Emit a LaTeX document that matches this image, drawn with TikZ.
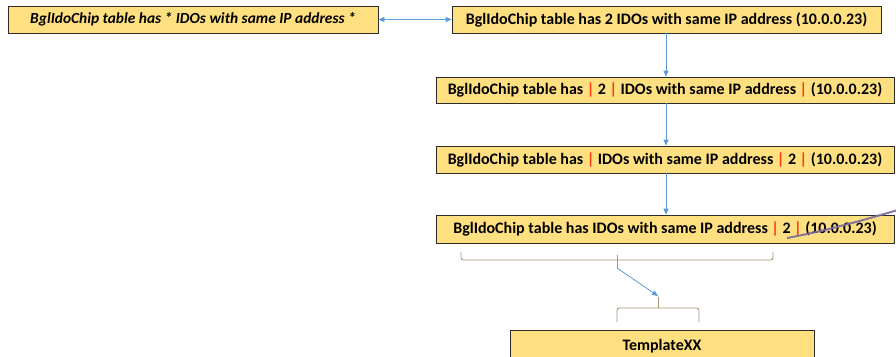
\documentclass[tikz,border=0pt]{standalone}
\usepackage{fontspec}
\setmainfont{Carlito}
\usetikzlibrary{arrows.meta}
\definecolor{boxfill}{HTML}{FFE081}
\definecolor{boxline}{HTML}{2B2B2B}
\definecolor{flow}{HTML}{5B9BD5}
\definecolor{bracec}{HTML}{A39770}
\definecolor{bar}{HTML}{FF3B0F}
\definecolor{strike}{HTML}{7B6A9E}
\newcommand{\sep}{\hspace{0.22em}\textcolor{bar}{|}\hspace{0.22em}}
\tikzset{
  rowbox/.style={draw=boxline, line width=0.8pt, fill=boxfill, inner sep=0pt,
    font=\bfseries\fontsize{16}{18}\selectfont},
  flowarrow/.style={draw=flow, line width=0.8pt, -{Triangle[length=6pt,width=5pt]}},
  bracket/.style={draw=bracec, line width=0.9pt, rounded corners=2.5pt},
}
\begin{document}
\begin{tikzpicture}[x=1pt,y=-1pt]
\useasboundingbox (0,0) rectangle (896,356);
% header row
\node[rowbox, minimum width=370pt, minimum height=27pt, font=\bfseries\itshape\fontsize{15.4}{17}\selectfont]
  (star) at (193,19.5) {BglIdoChip table has * IDOs with same IP address *};
\node[rowbox, minimum width=429pt, minimum height=27pt]
  (plain) at (666.5,19.5) {BglIdoChip table has 2 IDOs with same IP address (10.0.0.23)};
% stacked variants
\node[rowbox, minimum width=458pt, minimum height=26pt]
  (v1) at (665,90) {BglIdoChip table has\sep 2\sep IDOs with same IP address\sep (10.0.0.23)};
\node[rowbox, minimum width=458pt, minimum height=27pt]
  (v2) at (665,159.5) {BglIdoChip table has\sep IDOs with same IP address\sep 2\sep (10.0.0.23)};
\node[rowbox, minimum width=458pt, minimum height=28pt]
  (v3) at (665,229) {BglIdoChip table has IDOs with same IP address\sep 2\sep (10.0.0.23)};
% template box
\node[rowbox, minimum width=304pt, minimum height=34pt, anchor=north west]
  (tpl) at (510,330) {};
\node[font=\bfseries\fontsize{16}{18}\selectfont] (tpltext) at (662,346) {TemplateXX};
% connectors
\draw[draw=flow, line width=0.8pt, {Triangle[length=6pt,width=5pt]}-{Triangle[length=6pt,width=5pt]}]
  (star.east) -- (plain.west);
\draw[flowarrow] (plain.south -| 666,0) -- (v1.north -| 666,0);
\draw[flowarrow] (v1.south -| 666,0) -- (v2.north -| 666,0);
\draw[flowarrow] (v2.south -| 666,0) -- (v3.north -| 666,0);
% braces
\coordinate (b1tip) at (617,268);
\coordinate (b2tip) at (658,296);
\draw[bracket] (461,252) -- (461,260) -- (773,260) -- (773,252);
\draw[draw=bracec, line width=0.9pt] (617,255) -- (617,268);
\draw[bracket] (617,322) -- (617,308) -- (699,308) -- (699,322);
\draw[draw=bracec, line width=0.9pt] (658,308) -- (658,297);
\draw[flowarrow] (b1tip) -- (b2tip);
% strike-through over the address
\coordinate (s1) at (787,238);
\coordinate (s2) at (898,210);
\draw[strike, line width=2pt, opacity=0.9] (s1) .. controls (825,231) and (860,221) .. (s2);
\end{tikzpicture}
\end{document}
